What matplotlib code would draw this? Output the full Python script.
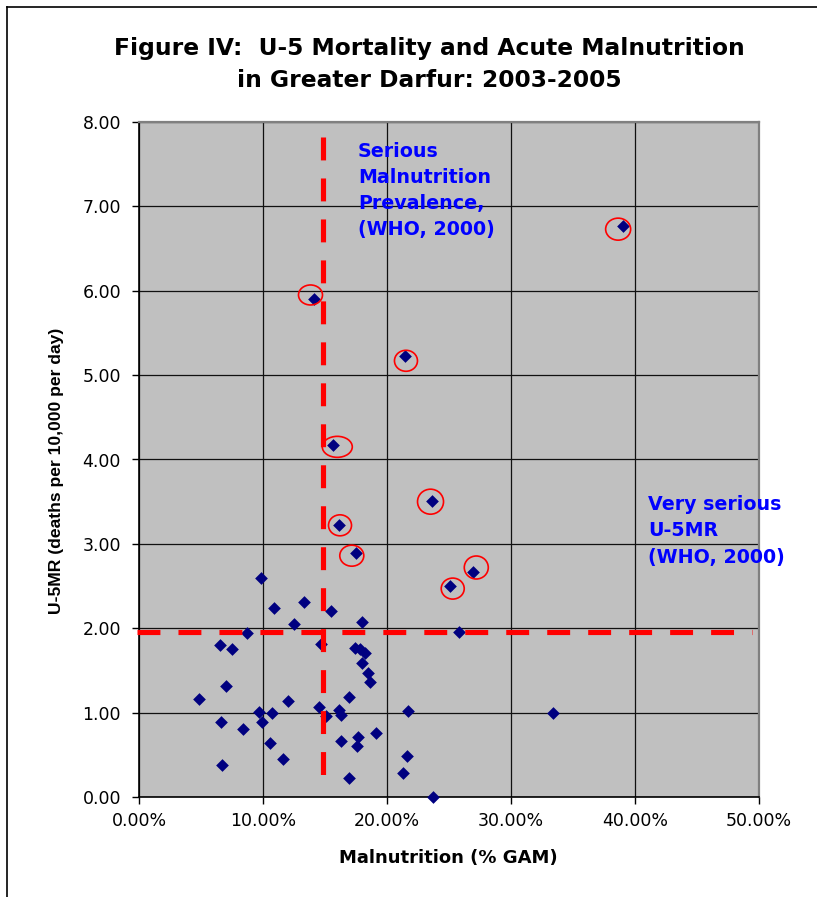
import matplotlib
matplotlib.use('Agg')
import matplotlib.pyplot as plt
from matplotlib.patches import Ellipse
from matplotlib.lines import Line2D
from matplotlib.ticker import FuncFormatter, MultipleLocator

NAVY = '#000080'
RED = '#FF0000'
PLOT_BG = '#C0C0C0'

# survey points: acute malnutrition (GAM, fraction) vs under-5 mortality
gam = [0.0984, 0.109, 0.133, 0.155, 0.125, 0.180, 0.087, 0.065, 0.075, 0.147,
       0.174, 0.178, 0.182, 0.180, 0.185, 0.186, 0.070, 0.048, 0.120, 0.169,
       0.097, 0.107, 0.145, 0.151, 0.161, 0.163, 0.217, 0.066, 0.099, 0.084,
       0.191, 0.177, 0.163, 0.106, 0.176, 0.216, 0.116, 0.067, 0.213, 0.169,
       0.237, 0.258, 0.334]
u5mr = [2.60, 2.24, 2.31, 2.20, 2.05, 2.07, 1.94, 1.80, 1.76, 1.81,
        1.77, 1.75, 1.71, 1.59, 1.47, 1.36, 1.31, 1.16, 1.14, 1.19,
        1.01, 1.00, 1.07, 0.96, 1.03, 0.97, 1.02, 0.89, 0.89, 0.81,
        0.76, 0.71, 0.66, 0.64, 0.60, 0.49, 0.45, 0.38, 0.28, 0.23,
        0.00, 1.95, 1.00]

# points above both thresholds (circled in red)
gam_hi = [0.1414, 0.2145, 0.1562, 0.2360, 0.1610, 0.1750, 0.2691, 0.2506, 0.3901]
u5mr_hi = [5.90, 5.23, 4.17, 3.51, 3.22, 2.89, 2.67, 2.50, 6.77]
# hand drawn circles around them (centre, width in px)
circ_x = [0.1383, 0.2153, 0.1599, 0.2351, 0.1621, 0.1716, 0.2720, 0.2530, 0.3864]
circ_y = [5.95, 5.17, 4.15, 3.50, 3.22, 2.86, 2.72, 2.47, 6.73]
circ_w = [24, 23, 30, 26, 23, 24, 24, 23, 25]
circ_h = [20, 21, 21, 25, 21, 21, 23, 21, 22]

GAM_LIMIT = 0.148
U5MR_LIMIT = 1.96

plt.rcParams['lines.scale_dashes'] = False

W, H = 817, 897
fig = plt.figure(figsize=(W / 100, H / 100), dpi=100)
ax = fig.add_axes([139 / W, 1 - 797 / H, 620 / W, 675 / H])
ax.set_facecolor(PLOT_BG)

ax.set_xlim(0, 0.5)
ax.set_ylim(0, 8)
ax.xaxis.set_major_locator(MultipleLocator(0.1))
ax.yaxis.set_major_locator(MultipleLocator(1))
ax.xaxis.set_major_formatter(FuncFormatter(lambda v, p: '{:.2f}%'.format(v * 100)))
ax.yaxis.set_major_formatter(FuncFormatter(lambda v, p: '{:.2f}'.format(v)))
ax.grid(True, color='#101010', linewidth=0.9)
ax.set_axisbelow(True)
ax.tick_params(direction='out', length=5, width=1, labelsize=12.5, colors='black')
ax.tick_params(axis='x', pad=6)
ax.tick_params(axis='y', pad=8)
for lab in ax.get_xticklabels() + ax.get_yticklabels():
    lab.set_family('DejaVu Sans')

for s in ['left', 'bottom']:
    ax.spines[s].set_color('black')
    ax.spines[s].set_linewidth(1.2)
for s in ['top', 'right']:
    ax.spines[s].set_color('#808080')
    ax.spines[s].set_linewidth(1.6)

# data
ax.scatter(gam, u5mr, marker='D', s=42, c=NAVY, linewidths=0, zorder=3, clip_on=False)
ax.scatter(gam_hi, u5mr_hi, marker='D', s=42, c=NAVY, linewidths=0, zorder=3, clip_on=False)

# circles (px sizes converted to data units)
px_x = 0.5 / 620
px_y = 8 / 675
for cx, cy, w, h in zip(circ_x, circ_y, circ_w, circ_h):
    ax.add_patch(Ellipse((cx, cy), w * px_x, h * px_y, fill=False,
                         edgecolor=RED, linewidth=1.2, zorder=4))

# WHO thresholds
ax.plot([GAM_LIMIT, GAM_LIMIT], [7.82, 0.08], color=RED, linewidth=3.7,
        dashes=(16.5, 13), solid_capstyle='butt', dash_capstyle='butt', zorder=5)
ax.plot([-0.002, 0.4944], [U5MR_LIMIT, U5MR_LIMIT], color=RED, linewidth=3.7,
        dashes=(16.5, 13), solid_capstyle='butt', dash_capstyle='butt', zorder=5,
        clip_on=False)

ax.text(0.1766, 7.764, 'Serious\nMalnutrition\nPrevalence,\n(WHO, 2000)',
        color='#0000FF', fontsize=13.7, fontweight='bold', family='DejaVu Sans',
        ha='left', va='top', linespacing=1.47, zorder=6)
ax.text(0.4105, 3.581, 'Very serious\nU-5MR\n(WHO, 2000)',
        color='#0000FF', fontsize=13.7, fontweight='bold', family='DejaVu Sans',
        ha='left', va='top', linespacing=1.5, zorder=6, clip_on=False)

# titles and axis labels
fig.text(0.525, 1 - 55 / H, 'Figure IV:  U-5 Mortality and Acute Malnutrition',
         fontsize=16.8, fontweight='bold', family='DejaVu Sans', ha='center', va='baseline')
fig.text(0.525, 1 - 86.7 / H, 'in Greater Darfur: 2003-2005',
         fontsize=16.8, fontweight='bold', family='DejaVu Sans', ha='center', va='baseline')
fig.text(448 / W, 1 - 862.7 / H, 'Malnutrition (% GAM)',
         fontsize=13, fontweight='bold', family='DejaVu Sans', ha='center', va='baseline')
fig.text(57 / W, 1 - 471 / H, 'U-5MR (deaths per 10,000 per day)',
         fontsize=12.6, fontweight='bold', family='Liberation Sans',
         rotation=90, ha='center', va='center')

# chart frame (top and left edges visible)
fig.add_artist(Line2D([7 / W, 7 / W], [0, 1 - 7 / H], color='black', linewidth=1.2))
fig.add_artist(Line2D([7 / W, 1], [1 - 7 / H, 1 - 7 / H], color='black', linewidth=1.2))

fig.savefig('out.png', dpi=100)
